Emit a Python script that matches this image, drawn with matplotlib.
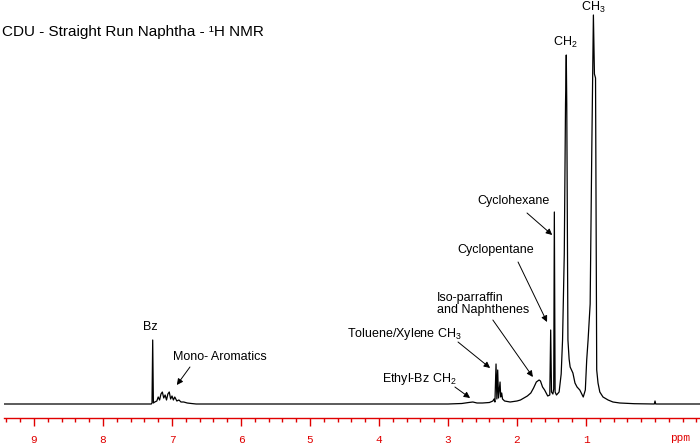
import matplotlib
matplotlib.use("Agg")
import matplotlib.pyplot as plt
from matplotlib.ticker import MultipleLocator

plt.rcParams['font.family'] = ['Liberation Sans', 'DejaVu Sans']
plt.rcParams['mathtext.fontset'] = 'custom'
plt.rcParams['mathtext.rm'] = 'Liberation Sans'
plt.rcParams['mathtext.it'] = 'Liberation Sans'

# spectrum trace: chemical shift (ppm) and intensity (a.u.)
ppm = [9.43, 7.40, 7.30, 7.29, 7.28, 7.27, 7.25, 7.22, 7.20, 7.18, 7.16, 7.14,
       7.12, 7.10, 7.08, 7.06, 7.04, 7.02, 7.00, 6.98, 6.96, 6.93, 6.90, 6.87,
       6.83, 6.78, 6.72, 6.65, 3.00, 2.80, 2.70, 2.64, 2.58, 2.50, 2.40, 2.35,
       2.333, 2.32, 2.304, 2.292, 2.28, 2.268, 2.246, 2.236, 2.222, 2.21, 2.18,
       2.10, 2.00, 1.95, 1.90, 1.85, 1.80, 1.76, 1.72, 1.68, 1.66, 1.63, 1.60,
       1.57, 1.555, 1.525, 1.512, 1.50, 1.48, 1.468, 1.459, 1.448, 1.428, 1.39,
       1.36, 1.34, 1.315, 1.297, 1.286, 1.279, 1.262, 1.245, 1.23, 1.19, 1.16, 1.13,
       1.09, 1.04, 1.01, 0.99, 0.97, 0.94, 0.917, 0.893, 0.878, 0.862, 0.845,
       0.826, 0.80, 0.754, 0.68, 0.61, 0.51, 0.30, 0.01, 0.0, -0.01, -0.65]
intensity = [0, 0, 0, 1, 64, 1, 2, 3, 7, 4, 10, 12,
             6, 9, 4, 10, 12, 5, 8, 4, 7, 3, 4, 2,
             2, 1, 0.5, 0, 0, 0.5, 1.5, 2, 1, 1, 1.5, 3,
             5, 2, 40, 5, 34, 6, 22, 7, 11, 5, 3,
             2, 3, 4, 6, 8, 11, 16, 22, 24, 23, 17, 14,
             10, 8, 9, 74, 12, 10, 15, 192, 12, 9, 12,
             30, 64, 150, 300, 349, 300, 64, 45, 37, 31, 21, 17,
             14, 7, 14, 44, 64, 100, 250, 389, 330, 326, 34,
             21, 12, 7, 4, 2, 1, 0.3, 0, 3, 0, 0]

# peak labels: text, x (ppm), y (intensity), alignment
labels = ['Bz', 'Mono- Aromatics', 'Ethyl-Bz CH$_\\mathregular{2}$',
          'Toluene/Xylene CH$_\\mathregular{3}$', 'Iso-parraffin\nand Naphthenes',
          'Cyclopentane', 'Cyclohexane', 'CH$_\\mathregular{2}$', 'CH$_\\mathregular{3}$']
label_x = [7.32, 6.99, 3.96, 4.46, 3.16, 2.87, 2.58, 1.30, 0.90]
label_y = [77, 47, 25, 70, 100, 154, 203, 358, 393]
label_ha = ['center', 'left', 'left', 'left', 'left', 'left', 'left', 'center', 'center']
label_va = ['center', 'center', 'center', 'center', 'center', 'center', 'center',
            'baseline', 'baseline']

# arrows: (start ppm, start intensity) -> (end ppm, end intensity)
arrow_from = [(6.74, 37), (2.90, 17), (2.855, 62), (2.35, 84), (1.985, 142), (1.855, 191)]
arrow_to = [(6.93, 19), (2.68, 6), (2.39, 36), (1.77, 27), (1.565, 82), (1.49, 169)]

red = '#e00000'

fig = plt.figure(figsize=(7, 4.45), dpi=100)
ax = fig.add_axes([4 / 700, 27 / 445, 696 / 700, 418 / 445])
ax.plot(ppm, intensity, color='k', lw=0.9)

for t, x, y, ha, va in zip(labels, label_x, label_y, label_ha, label_va):
    ax.text(x, y, t, ha=ha, va=va, fontsize=9, linespacing=1.1)
for a, b in zip(arrow_from, arrow_to):
    ax.annotate('', xy=b, xytext=a,
                arrowprops=dict(arrowstyle='-|>', color='k', lw=0.7,
                                mutation_scale=9, shrinkA=0, shrinkB=0))

ax.set_xlim(9.435, -0.652)
ax.set_ylim(-14, 404)
for s in ['top', 'left', 'right']:
    ax.spines[s].set_visible(False)
ax.spines['bottom'].set_color(red)
ax.spines['bottom'].set_linewidth(1)
ax.set_yticks([])
ax.xaxis.set_major_locator(MultipleLocator(1))
ax.xaxis.set_minor_locator(MultipleLocator(0.2))
ax.tick_params(axis='x', which='major', direction='out', length=6, width=1,
               color=red, labelcolor=red, labelsize=8, pad=6)
ax.tick_params(axis='x', which='minor', direction='out', length=3, width=1, color=red)
ax.set_xticks(range(1, 10))
for lab in ax.get_xticklabels():
    lab.set_family('Liberation Mono')
ax.text(-0.36, -34, 'ppm', color=red, fontsize=8, family='Liberation Mono',
        ha='center', va='center', clip_on=False)

fig.text(2 / 700, 1 - 32 / 445, 'CDU - Straight Run Naphtha - ¹H NMR',
         fontsize=11, ha='left', va='center')

fig.savefig('out.png', dpi=100)
